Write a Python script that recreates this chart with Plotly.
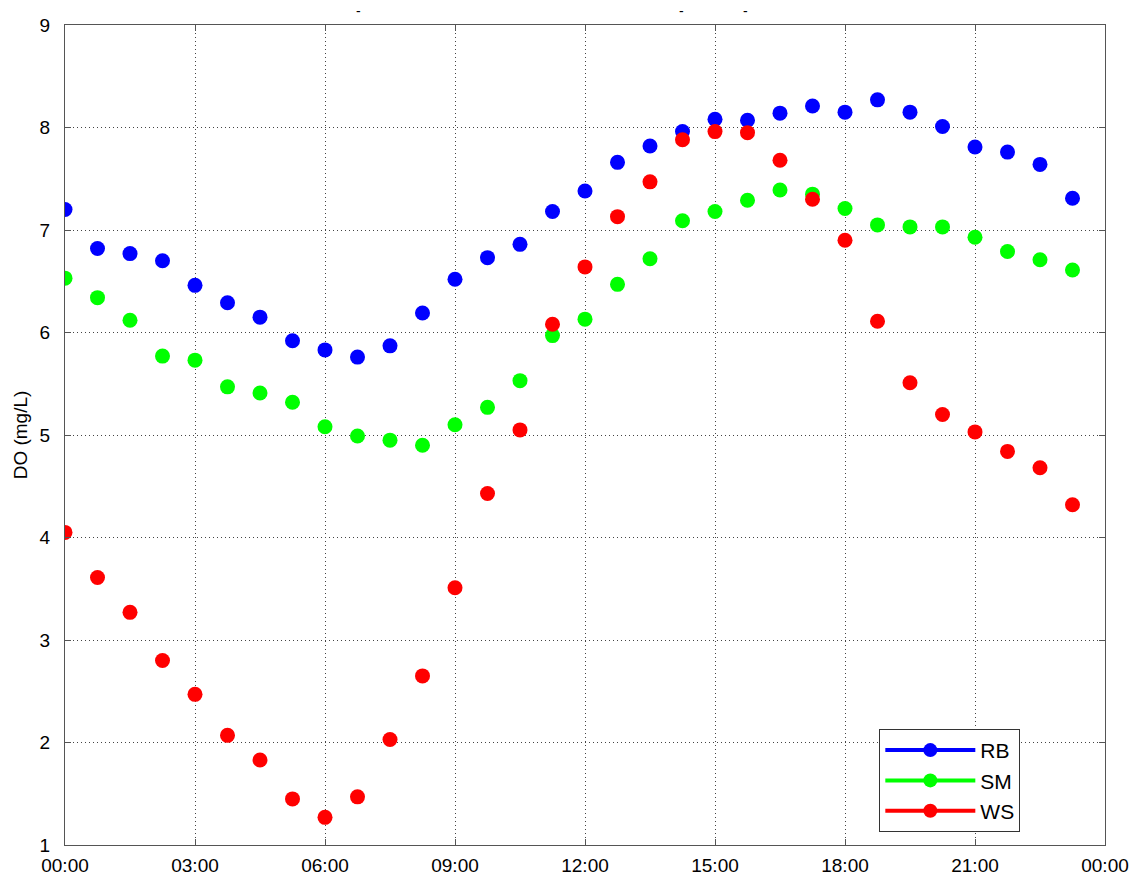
import plotly.graph_objects as go

# Sample times (45-minute interval over one day)
times = [
    "00:00", "00:45", "01:30", "02:15", "03:00", "03:45", "04:30", "05:15",
    "06:00", "06:45", "07:30", "08:15", "09:00", "09:45", "10:30", "11:15",
    "12:00", "12:45", "13:30", "14:15", "15:00", "15:45", "16:30", "17:15",
    "18:00", "18:45", "19:30", "20:15", "21:00", "21:45", "22:30", "23:15",
]

# Dissolved oxygen (mg/L) per site
do_rb = [7.20, 6.82, 6.77, 6.70, 6.46, 6.29, 6.15, 5.92, 5.83, 5.76, 5.87, 6.19,
         6.52, 6.73, 6.86, 7.18, 7.38, 7.66, 7.82, 7.96, 8.08, 8.07, 8.14, 8.21,
         8.15, 8.27, 8.15, 8.01, 7.81, 7.76, 7.64, 7.31]
do_sm = [6.53, 6.34, 6.12, 5.77, 5.73, 5.47, 5.41, 5.32, 5.08, 4.99, 4.95, 4.90,
         5.10, 5.27, 5.53, 5.97, 6.13, 6.47, 6.72, 7.09, 7.18, 7.29, 7.39, 7.35,
         7.21, 7.05, 7.03, 7.03, 6.93, 6.79, 6.71, 6.61]
do_ws = [4.05, 3.61, 3.27, 2.80, 2.47, 2.07, 1.83, 1.45, 1.27, 1.47, 2.03, 2.65,
         3.51, 4.43, 5.05, 6.08, 6.64, 7.13, 7.47, 7.88, 7.96, 7.95, 7.68, 7.30,
         6.90, 6.11, 5.51, 5.20, 5.03, 4.84, 4.68, 4.32]

series = [("RB", do_rb, "#0000ff"), ("SM", do_sm, "#00ff00"), ("WS", do_ws, "#ff0000")]

day = "2000-01-01 "
xs = [day + t for t in times]

fig = go.Figure()
for name, vals, color in series:
    fig.add_trace(go.Scatter(
        x=xs, y=vals, mode="markers", name=name, showlegend=False,
        marker=dict(color=color, size=15, line=dict(width=0)),
    ))
# Legend entries drawn as line + marker
for name, vals, color in series:
    fig.add_trace(go.Scatter(
        x=[None], y=[None], mode="lines+markers", name=name,
        line=dict(color=color, width=4),
        marker=dict(color=color, size=14),
    ))

family = "Liberation Sans, Arial, Helvetica, sans-serif"
font = dict(family=family, size=19, color="black")
grid = dict(showgrid=True, gridcolor="#444444", griddash="1px,3px", gridwidth=1,
            showline=True, linecolor="#555555", linewidth=1, mirror="ticks",
            ticks="inside", ticklen=6, tickcolor="#555555", zeroline=False,
            tickfont=font, automargin=False)

fig.update_layout(
    width=1139, height=879,
    margin=dict(l=65, r=34, t=25, b=34),
    paper_bgcolor="white", plot_bgcolor="white",
    font=font,
    xaxis=dict(type="date", range=["2000-01-01 00:00", "2000-01-02 00:00"],
               dtick=3 * 3600 * 1000, tick0="2000-01-01 00:00", tickformat="%H:%M",
               ticklabelstandoff=3, **grid),
    yaxis=dict(range=[1, 9], dtick=1, ticklabelstandoff=10,
               title=dict(text="DO (mg/L)", font=font, standoff=6),
               **grid),
    legend=dict(x=0.783, y=0.1415, xanchor="left", yanchor="top",
                bgcolor="white", bordercolor="#333333", borderwidth=1,
                font=dict(family=family, size=21, color="black"),
                itemwidth=90, tracegroupgap=0),
)

# Remnants of the heading above the axes
for xp in [0.278, 0.593, 0.654]:
    fig.add_annotation(x=xp, y=1.0, xref="paper", yref="paper", yanchor="bottom",
                       yshift=4, text="-", showarrow=False,
                       font=dict(family=family, size=14, color="black"))

fig.write_html("out.html")
